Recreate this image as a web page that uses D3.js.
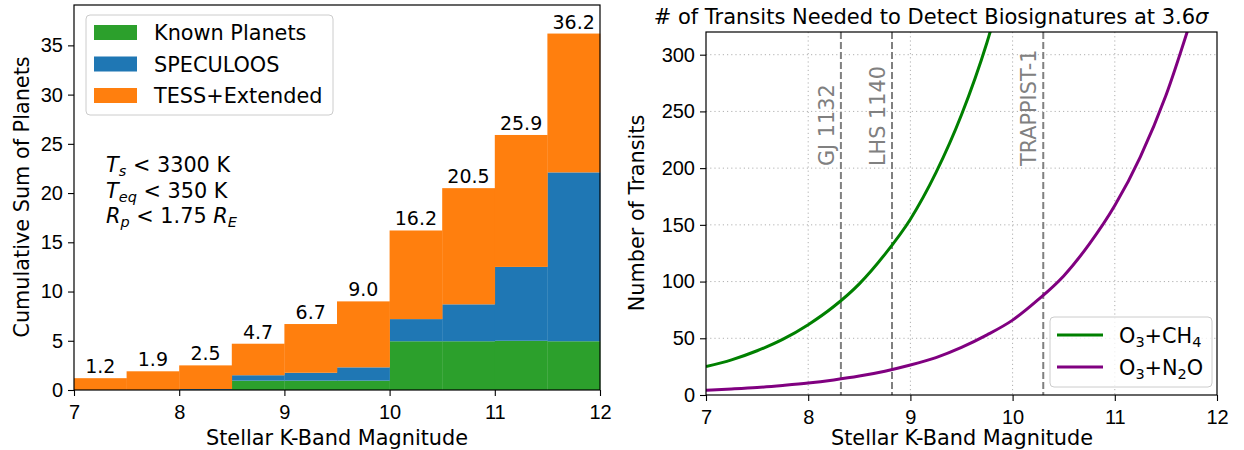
<!DOCTYPE html>
<html>
<head>
<meta charset="utf-8">
<script src="https://cdn.jsdelivr.net/npm/d3@7/dist/d3.min.js"></script>
<style>
  body{margin:0;background:#fff}
  svg{font-family:"DejaVu Sans",sans-serif}
  .tick text{font-size:20px;fill:#000}
  .tick line{stroke:#000;stroke-width:1.1}
</style>
</head>
<body>
<svg id="svg"></svg>
<script>
//left panel: cumulative planets per 0.5 mag bin
const binStart = [7, 7.5, 8, 8.5, 9, 9.5, 10, 10.5, 11, 11.5]
const binWidth = 0.5
const known = [0, 0, 0, 0.95, 0.95, 0.95, 4.95, 4.95, 5.0, 4.95]
const speculoos = [0, 0, 0.1, 0.55, 0.8, 1.35, 2.25, 3.75, 7.5, 17.15]
const tess = [1.2, 1.9, 2.4, 3.2, 4.95, 6.7, 9.0, 11.8, 13.4, 14.1]
const seriesNames = ['Known Planets', 'SPECULOOS', 'TESS+Extended']
const seriesColors = ['#2ca02c', '#1f77b4', '#ff7f0e']
const leftYTicks = [0, 5, 10, 15, 20, 25, 30, 35]
const magTicks = [7, 8, 9, 10, 11, 12]

//right panel: transits needed vs K mag
const magGrid = [7, 7.25, 7.5, 7.75, 8, 8.25, 8.5, 8.75, 9, 9.25, 9.5, 9.75, 10,
                 10.25, 10.5, 10.75, 11, 11.25, 11.5, 11.75]
const o3ch4 = [25, 31, 39, 49, 62, 78, 98, 124, 155, 196, 247, 311, 392,
               null, null, null, null, null, null, null]
const o3n2o = [4.2, 5.3, 6.6, 8.4, 10.5, 13.3, 16.7, 21, 26.4, 33, 42, 53, 66,
               84, 105, 133, 167, 210, 264, 332]
const starNames = ['GJ 1132', 'LHS 1140', 'TRAPPIST-1']
const starMags = [8.32, 8.82, 10.30]
const rightYTicks = [0, 50, 100, 150, 200, 250, 300]

let svg = d3.select('#svg').attr('width', 1244).attr('height', 450)
let fs = 20.8

//----------------------------------------------------------------------------------------------------
//left panel
let xL = d3.scaleLinear().domain([7, 12]).range([74, 600])
let yL = d3.scaleLinear().domain([0, 39.1]).range([390, 5])

let rows = binStart.map((b, i) => ({x: b, k: known[i], s: speculoos[i], t: tess[i]}))
let stack = d3.stack().keys(['k', 's', 't'])(rows)

let left = svg.append('g')
left.selectAll('g.layer')
    .data(stack)
    .enter()
    .append('g')
    .attr('fill', (d, i) => seriesColors[i])
    .selectAll('rect')
    .data(d => d)
    .enter()
    .append('rect')
    .attr('x', d => xL(d.data.x))
    .attr('width', xL(7 + binWidth) - xL(7) + 0.3)
    .attr('y', d => yL(d[1]))
    .attr('height', d => yL(d[0]) - yL(d[1]))

//totals above bars
left.selectAll('text.total')
    .data(rows)
    .enter()
    .append('text')
    .attr('x', d => xL(d.x + binWidth / 2))
    .attr('y', d => yL(d.k + d.s + d.t) - 5)
    .attr('text-anchor', 'middle')
    .style('font-size', '19px')
    .text(d => (d.k + d.s + d.t).toFixed(1))

let xAxisL = d3.axisBottom(xL).tickValues(magTicks).tickFormat(d3.format('d')).tickSize(6).tickPadding(9).tickSizeOuter(0)
left.append('g').attr('transform', 'translate(0,390)').call(xAxisL).call(g => g.select('.domain').remove())
let yAxisL = d3.axisLeft(yL).tickValues(leftYTicks).tickSize(6).tickPadding(5).tickSizeOuter(0)
left.append('g').attr('transform', 'translate(74,0)').call(yAxisL).call(g => g.select('.domain').remove())

left.append('rect')
    .attr('x', 74).attr('y', 5).attr('width', 526).attr('height', 385)
    .attr('fill', 'none').attr('stroke', '#000').attr('stroke-width', 1.2)

left.append('text')
    .attr('x', 337).attr('y', 445).attr('text-anchor', 'middle')
    .style('font-size', fs + 'px').text('Stellar K-Band Magnitude')
left.append('text')
    .attr('transform', 'translate(29,197) rotate(-90)').attr('text-anchor', 'middle')
    .style('font-size', fs + 'px').text('Cumulative Sum of Planets')

//legend
let legL = left.append('g')
legL.append('rect')
    .attr('x', 86).attr('y', 15).attr('width', 247).attr('height', 100).attr('rx', 4)
    .attr('fill', '#fff').attr('fill-opacity', 0.8).attr('stroke', '#ccc')
seriesNames.forEach((name, i) => {
  legL.append('rect').attr('x', 94).attr('y', 25 + i * 31.5).attr('width', 43).attr('height', 15)
      .attr('fill', seriesColors[i])
  legL.append('text').attr('x', 154).attr('y', 40 + i * 31.5)
      .style('font-size', fs + 'px').text(name)
})

//criteria note
let sub = 14.5
let noteRows = [
  [['T', 'i'], ['s', 'is'], [' < 3300 K', '']],
  [['T', 'i'], ['eq', 'is'], [' < 350 K', '']],
  [['R', 'i'], ['p', 'is'], [' < 1.75 ', ''], ['R', 'i'], ['E', 'is']]
]
noteRows.forEach((parts, r) => {
  let t = left.append('text').attr('x', 106).attr('y', 172 + r * 25.5).style('font-size', fs + 'px')
  let shifted = false
  parts.forEach(p => {
    let span = t.append('tspan').text(p[0])
    if (p[1].includes('i')) span.style('font-style', 'italic')
    if (p[1].includes('s')) { span.style('font-size', sub + 'px').attr('dy', 4); shifted = true }
    else if (shifted) { span.attr('dy', -4); shifted = false }
  })
})

//----------------------------------------------------------------------------------------------------
//right panel
let xR = d3.scaleLinear().domain([7, 12]).range([706, 1217])
let yR = d3.scaleLinear().domain([0, 320]).range([395, 32])

let right = svg.append('g')
right.append('clipPath').attr('id', 'clipR')
     .append('rect').attr('x', 706).attr('y', 32).attr('width', 511).attr('height', 363)

//grid
let grid = right.append('g').attr('stroke', '#b0b0b0').attr('stroke-width', 1).attr('stroke-dasharray', '1.2,3')
grid.selectAll('line.gx').data(magTicks.slice(1, -1)).enter().append('line')
    .attr('x1', d => xR(d)).attr('x2', d => xR(d)).attr('y1', 32).attr('y2', 395)
grid.selectAll('line.gy').data(rightYTicks.slice(1)).enter().append('line')
    .attr('x1', 706).attr('x2', 1217).attr('y1', d => yR(d)).attr('y2', d => yR(d))

//star markers
right.selectAll('line.star').data(starMags).enter().append('line')
     .attr('x1', d => xR(d)).attr('x2', d => xR(d)).attr('y1', 32).attr('y2', 395)
     .attr('stroke', 'gray').attr('stroke-width', 2).attr('stroke-dasharray', '7,3')
right.selectAll('text.star').data(starNames).enter().append('text')
     .attr('transform', (d, i) => `translate(${xR(starMags[i]) - 7},166) rotate(-90)`)
     .attr('fill', 'gray').style('font-size', fs + 'px')
     .text(d => d)

//curves
let line = d3.line()
    .defined(d => d[1] != null)
    .x(d => xR(d[0])).y(d => yR(d[1]))
    .curve(d3.curveMonotoneX)
let curves = [
  {vals: o3ch4, color: 'green', label: [['O', ''], ['3', 's'], ['+CH', ''], ['4', 's']]},
  {vals: o3n2o, color: 'purple', label: [['O', ''], ['3', 's'], ['+N', ''], ['2', 's'], ['O', '']]}
]
let plot = right.append('g').attr('clip-path', 'url(#clipR)')
curves.forEach(c => {
  plot.append('path')
      .datum(magGrid.map((m, i) => [m, c.vals[i]]))
      .attr('d', line)
      .attr('fill', 'none').attr('stroke', c.color).attr('stroke-width', 3)
})

let xAxisR = d3.axisBottom(xR).tickValues(magTicks).tickFormat(d3.format('d')).tickSize(6).tickPadding(9).tickSizeOuter(0)
right.append('g').attr('transform', 'translate(0,395)').call(xAxisR).call(g => g.select('.domain').remove())
let yAxisR = d3.axisLeft(yR).tickValues(rightYTicks).tickSize(6).tickPadding(5).tickSizeOuter(0)
right.append('g').attr('transform', 'translate(706,0)').call(yAxisR).call(g => g.select('.domain').remove())

right.append('rect')
     .attr('x', 706).attr('y', 32).attr('width', 511).attr('height', 363)
     .attr('fill', 'none').attr('stroke', '#000').attr('stroke-width', 1.2)

right.append('text')
     .attr('x', 962).attr('y', 445).attr('text-anchor', 'middle')
     .style('font-size', fs + 'px').text('Stellar K-Band Magnitude')
right.append('text')
     .attr('transform', 'translate(644,213) rotate(-90)').attr('text-anchor', 'middle')
     .style('font-size', fs + 'px').text('Number of Transits')
let title = right.append('text')
     .attr('x', 931).attr('y', 24).attr('text-anchor', 'middle')
     .style('font-size', '21px')
title.append('tspan').text('# of Transits Needed to Detect Biosignatures at 3.6')
title.append('tspan').style('font-style', 'italic').text('σ')

//legend
let legR = right.append('g')
legR.append('rect')
    .attr('x', 1050).attr('y', 317).attr('width', 162).attr('height', 70).attr('rx', 4)
    .attr('fill', '#fff').attr('fill-opacity', 0.8).attr('stroke', '#ccc')
curves.forEach((c, i) => {
  let yy = 335 + i * 32
  legR.append('line').attr('x1', 1057).attr('x2', 1103).attr('y1', yy).attr('y2', yy)
      .attr('stroke', c.color).attr('stroke-width', 3)
  let t = legR.append('text').attr('x', 1119).attr('y', yy + 8).style('font-size', fs + 'px')
  let shifted = false
  c.label.forEach(p => {
    let span = t.append('tspan').text(p[0])
    if (p[1] == 's') { span.style('font-size', sub + 'px').attr('dy', 4); shifted = true }
    else if (shifted) { span.attr('dy', -4); shifted = false }
  })
})
</script>
</body>
</html>
